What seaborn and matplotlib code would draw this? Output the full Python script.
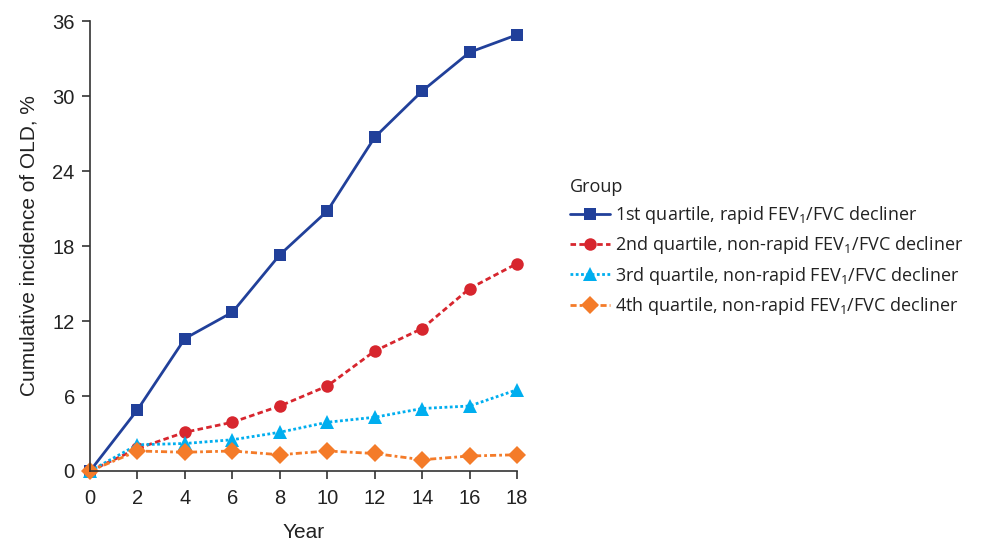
import matplotlib

matplotlib.use("Agg")
import matplotlib.pyplot as plt
import pandas as pd
import seaborn as sns

sns.set_style("ticks")
plt.rcParams["font.family"] = ["Liberation Sans", "DejaVu Sans"]
plt.rcParams["mathtext.default"] = "regular"

years = [0, 2, 4, 6, 8, 10, 12, 14, 16, 18]
q1_rapid = [0, 4.9, 10.6, 12.7, 17.3, 20.8, 26.7, 30.4, 33.5, 34.9]
q2_non_rapid = [0, 1.8, 3.1, 3.9, 5.2, 6.8, 9.6, 11.4, 14.6, 16.6]
q3_non_rapid = [0, 2.1, 2.2, 2.5, 3.1, 3.9, 4.3, 5.0, 5.2, 6.5]
q4_non_rapid = [0, 1.6, 1.5, 1.6, 1.3, 1.6, 1.4, 0.9, 1.2, 1.3]

groups = [
    "1st quartile, rapid FEV$_1$/FVC decliner",
    "2nd quartile, non-rapid FEV$_1$/FVC decliner",
    "3rd quartile, non-rapid FEV$_1$/FVC decliner",
    "4th quartile, non-rapid FEV$_1$/FVC decliner",
]
y_ticks = [0, 6, 12, 18, 24, 30, 36]

colors = ["#21409A", "#D7262E", "#00AEEF", "#F47B29"]
markers = ["s", "o", "^", "D"]
dashes = ["", (2, 1.2), (1, 0.9), (2.2, 1.1, 1, 1.1)]
sizes = [8, 9, 10, 9.5]


def main():
    series = [q1_rapid, q2_non_rapid, q3_non_rapid, q4_non_rapid]
    df = pd.concat(
        [
            pd.DataFrame({"year": years, "incidence": vals, "group": name})
            for name, vals in zip(groups, series)
        ]
    )

    fig = plt.figure(figsize=(9.84, 5.43), dpi=100)
    ax = fig.add_axes([0.0915, 0.1326, 0.434, 0.8287])

    sns.lineplot(
        data=df,
        x="year",
        y="incidence",
        hue="group",
        style="group",
        palette=dict(zip(groups, colors)),
        markers=dict(zip(groups, markers)),
        dashes=dict(zip(groups, dashes)),
        linewidth=2,
        markersize=9,
        markeredgewidth=0,
        ax=ax,
    )
    # per-series marker size tweaks
    for line, ms in zip(ax.get_lines(), sizes):
        line.set_markersize(ms)
        line.set_clip_on(False)

    ax.set_xlim(0, 18)
    ax.set_ylim(0, 36)
    ax.set_xticks(years)
    ax.set_yticks(y_ticks)
    ax.tick_params(labelsize=14.5, length=6, width=1.2, color="#333333",
                   labelcolor="#222222")
    ax.tick_params(axis="x", pad=7)
    ax.tick_params(axis="y", pad=5)
    for side in ["left", "bottom"]:
        ax.spines[side].set_color("#333333")
        ax.spines[side].set_linewidth(1.2)
    sns.despine(ax=ax)
    ax.set_xlabel("Year", fontsize=15, color="#222222", labelpad=11)
    ax.set_ylabel("Cumulative incidence of OLD, %", fontsize=15,
                  color="#222222", labelpad=10)

    handles, labels = ax.get_legend_handles_labels()
    for h, ms in zip(handles, sizes):
        h.set_markersize(ms)
    leg = ax.legend(
        handles,
        labels,
        title="Group",
        loc="upper left",
        bbox_to_anchor=(1.124, 0.652),
        frameon=False,
        prop={"family": ["Open Sans", "DejaVu Sans"], "size": 13},
        title_fontproperties={"family": ["Open Sans", "DejaVu Sans"], "size": 13},
        handlelength=2.2,
        handletextpad=0.3,
        labelspacing=0.46,
        borderpad=0,
        borderaxespad=0,
        alignment="left",
    )
    for t in leg.get_texts():
        t.set_color("#222222")
    leg.get_title().set_color("#222222")

    fig.savefig("out.png", dpi=100)
    plt.close()


if __name__ == "__main__":
    main()
